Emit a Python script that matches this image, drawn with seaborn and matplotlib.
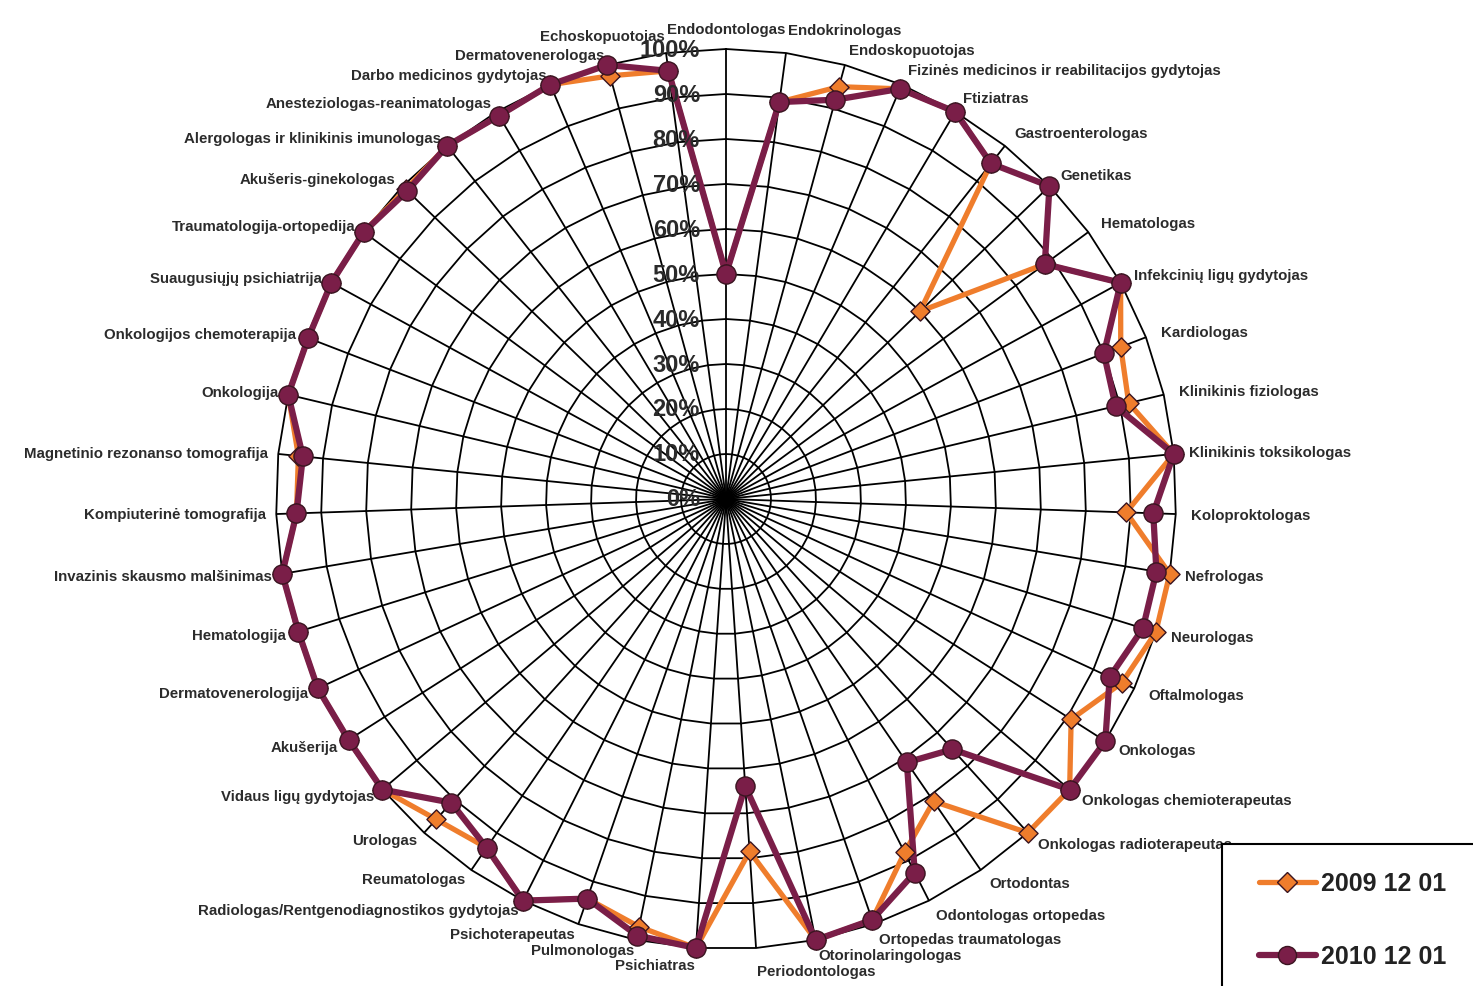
import numpy as np
import pandas as pd
import matplotlib
matplotlib.use("Agg")
import matplotlib.pyplot as plt
import matplotlib.transforms as mtransforms
from matplotlib.patches import Rectangle
from matplotlib.lines import Line2D
import seaborn as sns

categories = [
    "Endodontologas", "Endokrinologas", "Endoskopuotojas",
    "Fizinės medicinos ir reabilitacijos gydytojas", "Ftiziatras",
    "Gastroenterologas", "Genetikas", "Hematologas",
    "Infekcinių ligų gydytojas", "Kardiologas", "Klinikinis fiziologas",
    "Klinikinis toksikologas", "Koloproktologas", "Nefrologas", "Neurologas",
    "Oftalmologas", "Onkologas", "Onkologas chemioterapeutas",
    "Onkologas radioterapeutas", "Ortodontas", "Odontologas ortopedas",
    "Ortopedas traumatologas", "Otorinolaringologas", "Periodontologas",
    "Psichiatras", "Pulmonologas", "Psichoterapeutas",
    "Radiologas/Rentgenodiagnostikos gydytojas", "Reumatologas", "Urologas",
    "Vidaus ligų gydytojas", "Akušerija", "Dermatovenerologija",
    "Hematologija", "Invazinis skausmo malšinimas", "Kompiuterinė tomografija",
    "Magnetinio rezonanso tomografija", "Onkologija",
    "Onkologijos chemoterapija", "Suaugusiųjų psichiatrija",
    "Traumatologija-ortopedija", "Akušeris-ginekologas",
    "Alergologas ir klinikinis imunologas", "Anesteziologas-reanimatologas",
    "Darbo medicinos gydytojas", "Dermatovenerologas", "Echoskopuotojas",
]

values_2009 = [
    50, 89, 95, 99, 100, 95, 60, 88, 100, 94, 92, 100, 89, 100, 100,
    97, 91, 100, 100, 81.5, 88, 99, 100, 78.5, 100, 97, 94, 100, 94, 96,
    100, 99.5, 100, 99.5, 100, 95.5, 95.5, 100, 99.5, 100, 100, 99,
    100, 99, 100, 97.5, 96,
]

values_2010 = [
    50, 89, 92, 99, 100, 95, 100, 88, 100, 90, 89, 100, 95, 97, 97,
    94, 100, 100, 75, 71, 93, 99, 100, 64, 100, 99, 94, 100, 94, 91,
    100, 99.5, 100, 99.5, 100, 95.5, 94.5, 100, 99.5, 100, 100, 98.5,
    100, 99, 100, 100, 96,
]

series_names = ["2009 12 01", "2010 12 01"]
radial_ticks = [0, 10, 20, 30, 40, 50, 60, 70, 80, 90, 100]

ORANGE = "#EF7D2C"
PURPLE = "#7A1E48"
EDGE = "#3A1420"

n = len(categories)
theta = np.arange(n) * 2 * np.pi / n

rows = []
for name, vals in zip(series_names, [values_2009, values_2010]):
    for i in range(n + 1):
        rows.append({"series": name, "theta": theta[i % n] + (2 * np.pi if i == n else 0),
                     "value": vals[i % n], "order": i})
df = pd.DataFrame(rows)

sns.set_theme(style="white")
plt.rcParams["font.family"] = ["Liberation Sans", "DejaVu Sans"]

fig = plt.figure(figsize=(14.73, 9.87), dpi=100)
ax = fig.add_axes([0.18737, 0.03749, 0.6110, 0.91185], projection="polar")
ax.set_theta_zero_location("N")
ax.set_theta_direction(-1)
ax.set_ylim(0, 100)
ax.set_facecolor("white")

# spokes
ax.set_xticks(theta)
ax.set_xticklabels([])
ax.set_yticks([])
ax.xaxis.grid(True, color="black", lw=1.3)
ax.yaxis.grid(False)
ax.spines["polar"].set_visible(False)

# polygonal grid rings
ring_theta = np.append(theta, 2 * np.pi)
for lvl in radial_ticks[1:]:
    ax.plot(ring_theta, [lvl] * (n + 1), color="black", lw=1.3, zorder=1)

palette = {series_names[0]: ORANGE, series_names[1]: PURPLE}
widths = {series_names[0]: 3.8, series_names[1]: 4.5}
for name in series_names:
    sub = df[df["series"] == name]
    sns.lineplot(data=sub, x="theta", y="value", sort=False, estimator=None,
                 color=palette[name], lw=widths[name], ax=ax, zorder=3,
                 legend=False)
for name, mk, ms in [(series_names[0], "D", 95), (series_names[1], "o", 190)]:
    sub = df[(df["series"] == name) & (df["order"] < n)]
    sns.scatterplot(data=sub, x="theta", y="value", marker=mk, s=ms,
                    color=palette[name], edgecolor=EDGE, linewidth=1.0,
                    ax=ax, zorder=4, legend=False)
for art in list(ax.lines) + list(ax.collections):
    art.set_clip_on(False)
ax.set_xlabel("")
ax.set_ylabel("")
ax.set_ylim(0, 100)

# radial tick labels
off = mtransforms.offset_copy(ax.transData, fig=fig, x=-26, y=0, units="dots")
for t in radial_ticks:
    ax.text(0, t, f"{t}%", transform=off, ha="right", va="center",
            fontsize=17, fontweight="bold", color="#2a2a2a", zorder=5)

# category labels
for ang, lab in zip(theta, categories):
    s, c = np.sin(ang), np.cos(ang)
    if s > 0.05:
        ha, r = "left", 103.5
    elif s < -0.05:
        ha, r = "right", 102.3
    else:
        ha, r = "center", 103
    if c > 0.99:
        va = "bottom"
    elif c < -0.99:
        va = "top"
    else:
        va = "center"
    ax.text(ang, r, lab, ha=ha, va=va, fontsize=10.8, fontweight="bold",
            color="#2b2b2b", clip_on=False)

# legend (frame drawn as a rectangle that runs off the figure edge)
fig.patches.append(Rectangle((1222 / 1473, -0.05), 0.3, 1 - 845 / 987 + 0.05,
                             transform=fig.transFigure, facecolor="white",
                             edgecolor="black", lw=1.5, zorder=9))
handles = [
    Line2D([], [], color=ORANGE, lw=3.8, marker="D", markersize=10,
           markerfacecolor=ORANGE, markeredgecolor=EDGE),
    Line2D([], [], color=PURPLE, lw=4.5, marker="o", markersize=13,
           markerfacecolor=PURPLE, markeredgecolor=EDGE),
]
leg = fig.legend(handles, series_names, loc="upper left",
                 bbox_to_anchor=(1231 / 1473, 1 - 845 / 987),
                 prop={"size": 18, "weight": "bold"}, frameon=False,
                 handlelength=2.3, handletextpad=0.2,
                 labelspacing=1.95, borderpad=1.1, borderaxespad=0)
leg.set_zorder(10)
for txt in leg.get_texts():
    txt.set_color("#222222")

fig.savefig("out.png", dpi=100)
